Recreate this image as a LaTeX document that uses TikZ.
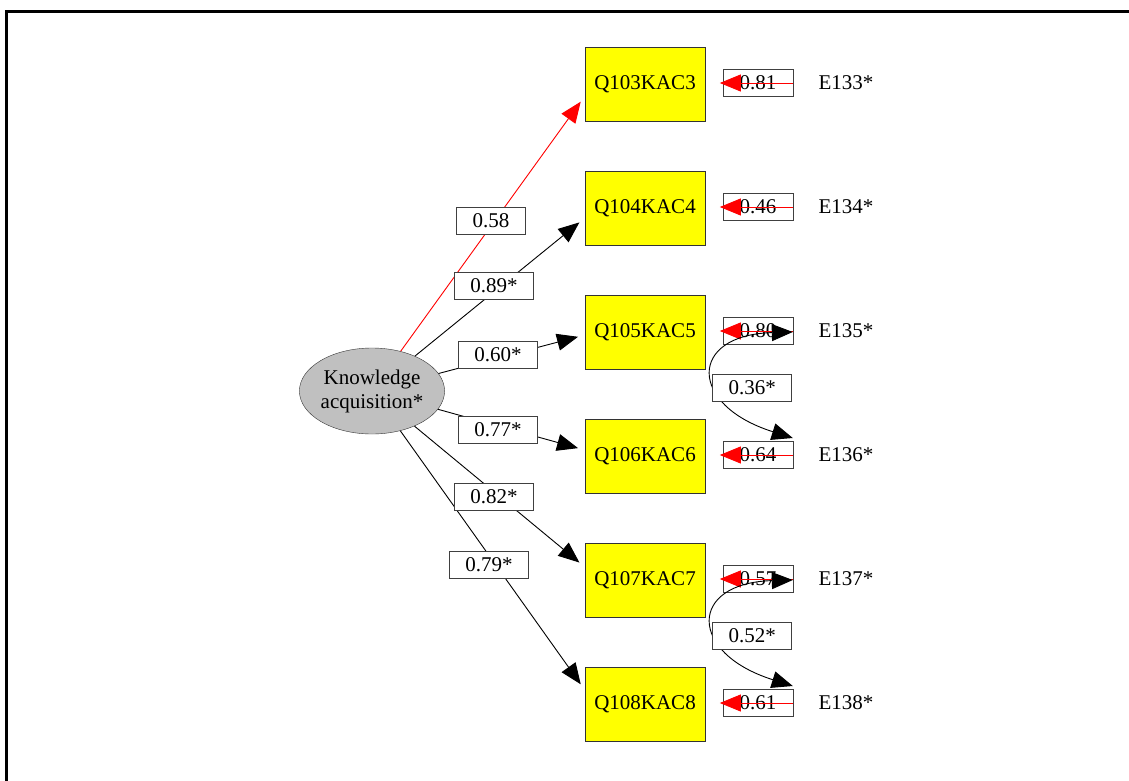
\documentclass[tikz,border=0pt]{standalone}
\usepackage{fontspec}
\setmainfont{Liberation Serif}
\usetikzlibrary{arrows.meta,shapes.geometric}
\definecolor{itemyellow}{RGB}{255,255,0}
\definecolor{latentgray}{RGB}{192,192,192}

\begin{document}
\begin{tikzpicture}[x=1pt, y=-1pt, >={Triangle[length=21pt,width=17pt]},
  every node/.style={font=\fontsize{21}{24}\selectfont},
  latent/.style={ellipse, draw=black!80, fill=latentgray, minimum width=144pt, minimum height=86pt, inner sep=0pt, align=center},
  item/.style={draw=black!80, fill=itemyellow, minimum width=120pt, minimum height=74pt, inner sep=0pt},
  lbl/.style={draw=black!75, fill=white, minimum height=27pt, inner xsep=16pt, inner ysep=0pt},
  errlbl/.style={lbl, minimum width=70pt, inner xsep=0pt},
  enode/.style={minimum width=106pt, inner sep=0pt},
  load/.style={->, line width=0.9pt, shorten >=7pt},
  err/.style={->, red, line width=0.9pt},
  cov/.style={<->, line width=0.9pt}]
  \useasboundingbox (0,0) rectangle (1129,781);
  \draw[line width=3pt] (6.5,781) -- (6.5,11.5) -- (1129,11.5);

  \node[latent] (ka) at (372,391) {Knowledge\\acquisition*};

  \node[item] (q1) at (645,84) {Q103KAC3};
  \node[item] (q2) at (645,208) {Q104KAC4};
  \node[item] (q3) at (645,332) {Q105KAC5};
  \node[item] (q4) at (645,456) {Q106KAC6};
  \node[item] (q5) at (645,580) {Q107KAC7};
  \node[item] (q6) at (645,704) {Q108KAC8};

  % loadings
  \draw[load, red] (ka) -- ([yshift=-12pt]q1.west);
  \draw[load] (ka) -- ([yshift=-10pt]q2.west);
  \draw[load] (ka) -- ([yshift=-3pt]q3.west);
  \draw[load] (ka) -- ([yshift=6pt]q4.west);
  \draw[load] (ka) -- ([yshift=13pt]q5.west);
  \draw[load] (ka) -- ([yshift=14pt]q6.west);

  \node[lbl] (l1) at (491,221) {0.58};
  \node[lbl] (l2) at (494,286) {0.89*};
  \node[lbl] (l3) at (498,355) {0.60*};
  \node[lbl] (l4) at (498,430) {0.77*};
  \node[lbl] (l5) at (494,497) {0.82*};
  \node[lbl] (l6) at (489,565) {0.79*};

  % residuals
  \node[enode] (e1) at (846,83) {E133*};
  \node[enode] (e2) at (846,207) {E134*};
  \node[enode] (e3) at (846,331) {E135*};
  \node[enode] (e4) at (846,455) {E136*};
  \node[enode] (e5) at (846,579) {E137*};
  \node[enode] (e6) at (846,703) {E138*};

  \node[errlbl] (r1) at (758,83) {0.81};
  \node[errlbl] (r2) at (758,207) {0.46};
  \node[errlbl] (r3) at (758,331) {0.80};
  \node[errlbl] (r4) at (758,455) {0.64};
  \node[errlbl] (r5) at (758,579) {0.57};
  \node[errlbl] (r6) at (758,703) {0.61};

  \draw[err] (e1.west) -- ([xshift=-3pt]r1.west);
  \draw[err] (e2.west) -- ([xshift=-3pt]r2.west);
  \draw[err] (e3.west) -- ([xshift=-3pt]r3.west);
  \draw[err] (e4.west) -- ([xshift=-3pt]r4.west);
  \draw[err] (e5.west) -- ([xshift=-3pt]r5.west);
  \draw[err] (e6.west) -- ([xshift=-3pt]r6.west);

  % covariances
  \draw[cov] ([yshift=-1pt]e3.west) .. controls (688,335) and (688,405) .. node[lbl, pos=0.5, anchor=north west, xshift=-2pt] {0.36*} ([yshift=17pt]e4.west);
  \draw[cov] ([yshift=-1pt]e5.west) .. controls (688,583) and (688,653) .. node[lbl, pos=0.5, anchor=north west, xshift=-2pt] {0.52*} ([yshift=17pt]e6.west);
\end{tikzpicture}
\end{document}
